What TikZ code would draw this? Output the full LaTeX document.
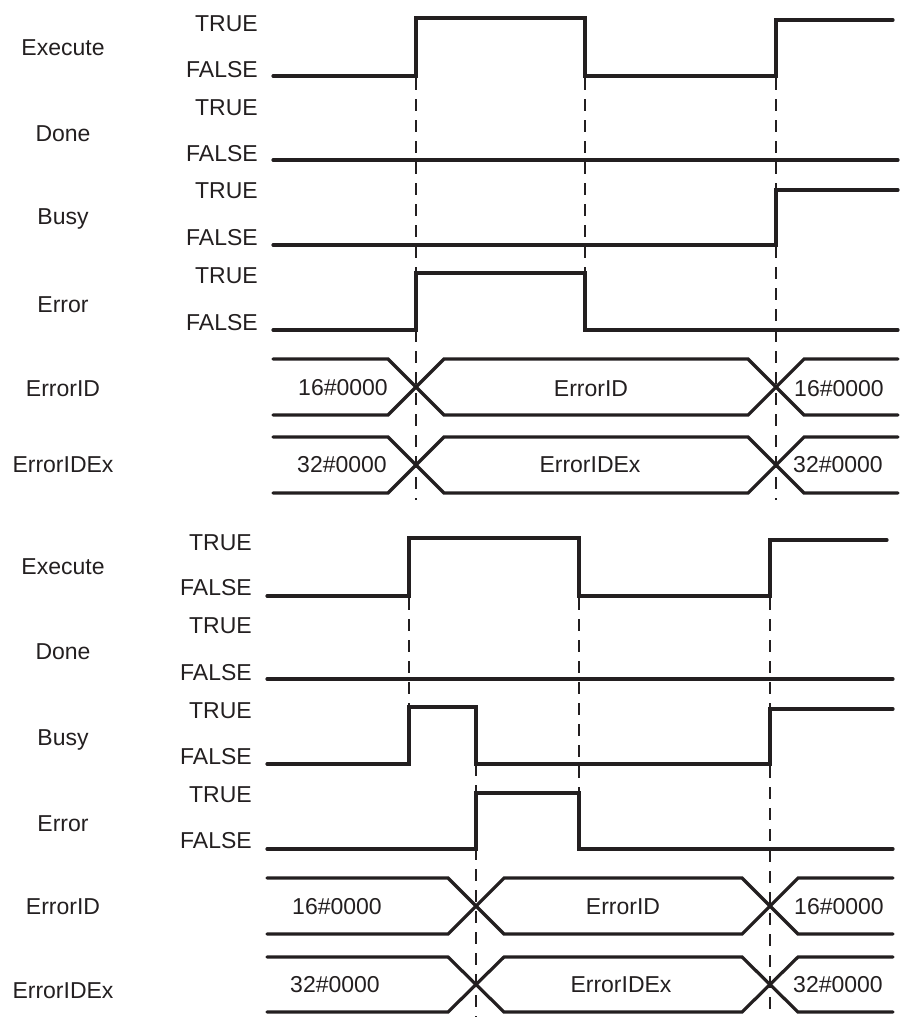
\documentclass[tikz,border=0pt]{standalone}
\usepackage{fontspec}
\setmainfont{Liberation Sans}
\definecolor{ink}{HTML}{231F20}
\begin{document}
\begin{tikzpicture}[x=1pt,y=-1pt,
  sig/.style={draw=ink,line width=3.2pt,line cap=round,line join=miter},
  guide/.style={draw=ink,line width=2pt,dash pattern=on 12pt off 9pt},
  txt/.style={inner sep=0pt,text=ink,font=\fontsize{23}{27}\selectfont,anchor=base},
  lvl/.style={txt,anchor=base east}]
\useasboundingbox (0,0) rectangle (905,1017);
% ---------- top chart ----------
\node[txt] (nExecA) at (63,55) {Execute};
\node[txt] (nDoneA) at (63,141) {Done};
\node[txt] (nBusyA) at (63,224) {Busy};
\node[txt] (nErrA) at (63,312) {Error};
\node[txt] (nIDA) at (63,396) {ErrorID};
\node[txt] (nIDExA) at (63,472) {ErrorIDEx};
\node[lvl] (tA1) at (258,31) {TRUE};
\node[lvl] (fA1) at (258,77) {FALSE};
\node[lvl] (tA2) at (258,115) {TRUE};
\node[lvl] (fA2) at (258,161) {FALSE};
\node[lvl] (tA3) at (258,198) {TRUE};
\node[lvl] (fA3) at (258,245) {FALSE};
\node[lvl] (tA4) at (258,283) {TRUE};
\node[lvl] (fA4) at (258,330) {FALSE};
% guides
\draw[guide] (416,78) -- (416,500);
\draw[guide] (585,78) -- (585,273);
\draw[guide] (776,78) -- (776,500);
% signals
\draw[sig] (273,76) -- (416,76) -- (416,18) -- (585,18) -- (585,76) -- (776,76) -- (776,20) -- (893,20);
\draw[sig] (273,160) -- (898,160);
\draw[sig] (273,245) -- (776,245) -- (776,190) -- (898,190);
\draw[sig] (273,330) -- (416,330) -- (416,273) -- (585,273) -- (585,330) -- (898,330);
% buses
\draw[sig] (273,359) -- (388,359) -- (444,415) -- (748,415) -- (804,359) -- (898,359);
\draw[sig] (273,415) -- (388,415) -- (444,359) -- (748,359) -- (804,415) -- (898,415);
\draw[sig] (273,437) -- (388,437) -- (444,493) -- (748,493) -- (804,437) -- (898,437);
\draw[sig] (273,493) -- (388,493) -- (444,437) -- (748,437) -- (804,493) -- (898,493);
\node[txt] (vA1) at (343,395) {16\#0000};
\node[txt] (vA2) at (591,396) {ErrorID};
\node[txt] (vA3) at (839,396) {16\#0000};
\node[txt] (vA4) at (342,472) {32\#0000};
\node[txt] (vA5) at (590,472) {ErrorIDEx};
\node[txt] (vA6) at (838,472) {32\#0000};
% ---------- bottom chart ----------
\node[txt] (nExecB) at (63,574) {Execute};
\node[txt] (nDoneB) at (63,659) {Done};
\node[txt] (nBusyB) at (63,745) {Busy};
\node[txt] (nErrB) at (63,831) {Error};
\node[txt] (nIDB) at (63,914) {ErrorID};
\node[txt] (nIDExB) at (63,998) {ErrorIDEx};
\node[lvl] (tB1) at (252,550) {TRUE};
\node[lvl] (fB1) at (252,595) {FALSE};
\node[lvl] (tB2) at (252,633) {TRUE};
\node[lvl] (fB2) at (252,680) {FALSE};
\node[lvl] (tB3) at (252,718) {TRUE};
\node[lvl] (fB3) at (252,764) {FALSE};
\node[lvl] (tB4) at (252,802) {TRUE};
\node[lvl] (fB4) at (252,848) {FALSE};
% guides
\draw[guide] (409,598) -- (409,707);
\draw[guide] (579,598) -- (579,793);
\draw[guide] (476,764) -- (476,1017);
\draw[guide] (770,598) -- (770,1017);
% signals
\draw[sig] (267,596) -- (409,596) -- (409,538) -- (579,538) -- (579,596) -- (770,596) -- (770,540) -- (887,540);
\draw[sig] (267,679) -- (893,679);
\draw[sig] (267,764) -- (409,764) -- (409,707) -- (476,707) -- (476,764) -- (770,764) -- (770,709) -- (893,709);
\draw[sig] (267,849) -- (476,849) -- (476,793) -- (579,793) -- (579,849) -- (893,849);
% buses
\draw[sig] (267,878) -- (448,878) -- (504,934) -- (742,934) -- (798,878) -- (893,878);
\draw[sig] (267,934) -- (448,934) -- (504,878) -- (742,878) -- (798,934) -- (893,934);
\draw[sig] (267,957) -- (448,957) -- (504,1012) -- (742,1012) -- (798,957) -- (893,957);
\draw[sig] (267,1012) -- (448,1012) -- (504,957) -- (742,957) -- (798,1012) -- (893,1012);
\node[txt] (vB1) at (337,914) {16\#0000};
\node[txt] (vB2) at (623,914) {ErrorID};
\node[txt] (vB3) at (839,914) {16\#0000};
\node[txt] (vB4) at (335,992) {32\#0000};
\node[txt] (vB5) at (621,992) {ErrorIDEx};
\node[txt] (vB6) at (838,992) {32\#0000};
\end{tikzpicture}
\end{document}
